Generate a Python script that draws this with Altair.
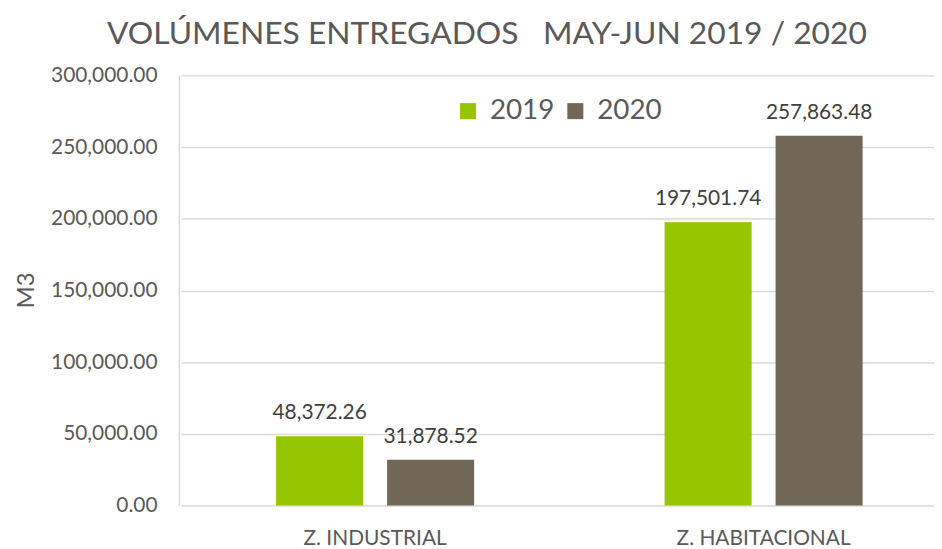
import altair as alt
import pandas as pd

categories = ["Z. INDUSTRIAL", "Z. INDUSTRIAL", "Z. HABITACIONAL", "Z. HABITACIONAL"]
years = ["2019", "2020", "2019", "2020"]
values = [48372.26, 31878.52, 197501.74, 257863.48]

cat_order = ["Z. INDUSTRIAL", "Z. HABITACIONAL"]
year_order = ["2019", "2020"]
colors = ["#95C600", "#716756"]

df = pd.DataFrame({"cat": categories, "year": years, "value": values})

FONT = "Lato"

x = alt.X("cat:N", sort=cat_order, title=None,
          scale=alt.Scale(range=[2, 784], paddingInner=0, paddingOuter=0),
          axis=alt.Axis(labelAngle=0, labelFontSize=21, labelColor="#595959",
                        labelFont=FONT, ticks=False, domain=False, labelPadding=22))
xo = alt.XOffset("year:N", sort=year_order,
                 scale=alt.Scale(paddingInner=0.216, paddingOuter=0.858))
y = alt.Y("value:Q", title="M3",
          scale=alt.Scale(domain=[0, 300000], nice=False),
          axis=alt.Axis(values=[0, 50000, 100000, 150000, 200000, 250000, 300000],
                        format=",.2f", labelFontSize=21, labelColor="#595959",
                        labelFont=FONT, ticks=False, labelPadding=22,
                        domain=True, domainColor="#D9D9D9", domainWidth=1.5,
                        gridColor="#D9D9D9", gridWidth=1.5,
                        titleFontSize=24, titleFont=FONT, titleColor="#595959",
                        titleFontWeight="normal", titleX=-153, titleY=216,
                        titleAlign="center", titleBaseline="middle", titleAngle=-90))

color = alt.Color("year:N", sort=year_order,
                  scale=alt.Scale(domain=year_order, range=colors),
                  legend=alt.Legend(title=None, orient="none", legendX=277, legendY=22,
                                    direction="horizontal", symbolType="square",
                                    symbolSize=260, symbolStrokeWidth=0,
                                    labelFontSize=28, labelFont=FONT, labelColor="#595959",
                                    labelOffset=8, columnPadding=7))

bars = alt.Chart(df).mark_bar().encode(x=x, xOffset=xo, y=y, color=color)
labels = alt.Chart(df).mark_text(baseline="alphabetic", dy=-17, fontSize=21,
                                 font=FONT, color="#404040").encode(
    x=x, xOffset=xo, y=y, text=alt.Text("value:Q", format=",.2f"))

title_text = "VOLÚMENES ENTREGADOS\u00a0\u00a0\u00a0MAY-JUN 2019 / 2020"

chart = (bars + labels).properties(
    width=760, height=433,
    autosize=alt.AutoSizeParams(type="none"),
    padding={"left": 172, "top": 66, "right": 0, "bottom": 60},
    title=alt.TitleParams(title_text,
                          fontSize=32, font=FONT, color="#595959", fontWeight="normal",
                          anchor="middle", dx=-70, offset=14),
).configure_view(stroke=None)

chart.save("out.html", embed_options={"renderer": "svg", "actions": False})
